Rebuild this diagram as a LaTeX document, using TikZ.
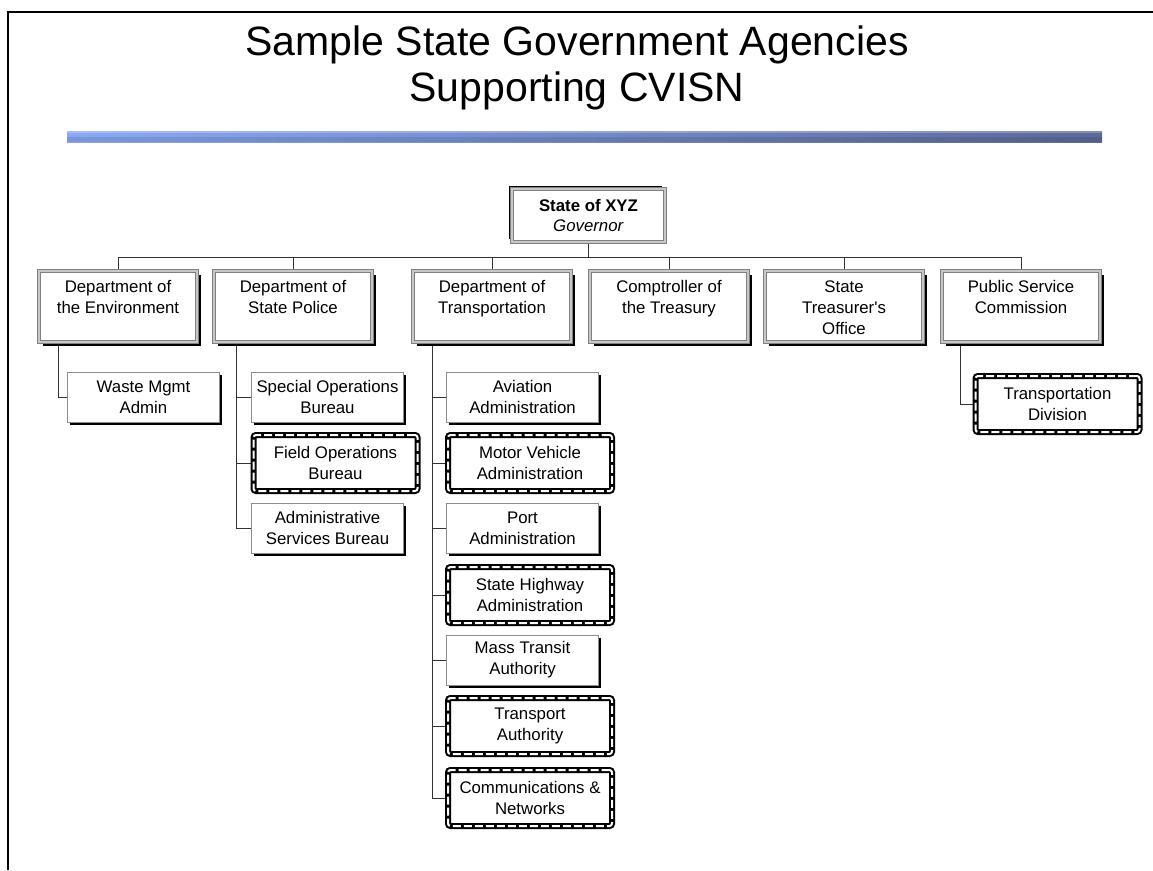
\documentclass[tikz,border=0pt]{standalone}
\usepackage{fontspec}
\setmainfont{Liberation Sans}
\usetikzlibrary{calc,shadows,backgrounds}

\definecolor{barleft}{RGB}{138,168,245}
\definecolor{barright}{RGB}{92,106,152}

\begin{document}
\begin{tikzpicture}[x=1pt,y=-1pt,
  lbl/.style={font=\fontsize{16.8}{21}\selectfont, align=center, inner sep=0pt},
  framebox/.style={draw=black!50, line width=0.8pt, double=black!22, double distance=2.6pt,
    fill=white, inner sep=0pt},
  deptbox/.style={framebox, minimum width=158pt, minimum height=71pt,
    drop shadow={shadow xshift=3.5pt, shadow yshift=-3.5pt, fill=black, opacity=1}},
  govbox/.style={framebox, minimum width=153pt, minimum height=53pt,
    font=\fontsize{16.8}{20}\selectfont, align=center,
    drop shadow={shadow xshift=-3.5pt, shadow yshift=3.5pt, fill=black, opacity=1}},
  unitbox/.style={lbl, draw=black!45, line width=0.8pt, fill=white,
    minimum width=152pt, minimum height=50pt,
    drop shadow={shadow xshift=2.5pt, shadow yshift=-2.5pt, fill=black, opacity=1}},
  cvisnbox/.style={lbl, draw=black, line width=6pt, rounded corners=2.5pt, fill=white,
    minimum width=164pt, minimum height=56pt,
    postaction={draw=white, line width=2pt, dash pattern=on 8pt off 3pt}},
  link/.style={draw=black!80, line width=0.8pt}
]
\useasboundingbox (0,0) rectangle (1153,870);

% page frame
\draw[line width=2pt] (7.5,870) -- (7.5,12) -- (1153,12);

% title and rule
\node[font=\fontsize{41}{46}\selectfont, align=center, inner sep=0pt] (title) at (577,68)
  {Sample State Government Agencies\\Supporting CVISN};
\shade[left color=barleft, right color=barright] (67,131) rectangle (1102,142);
\fill[black, opacity=0.10] (67,137) rectangle (1102,142);
\fill[white, opacity=0.25] (67,131) rectangle (1102,132.5);

% head of the chart
\node[govbox] (gov) at (588.5,215.5) {\textbf{State of XYZ}\\\textit{Governor}};

% departments
\node[deptbox] (env)  at (118,306.5) {};
\node[deptbox] (pol)  at (293,306.5) {};
\node[deptbox] (dot)  at (492,306.5) {};
\node[deptbox] (comp) at (669,306.5) {};
\node[deptbox] (tres) at (844,306.5) {};
\node[deptbox] (psc)  at (1021,306.5) {};

\node[lbl, anchor=north] (envlbl)  at ($(env.north)+(0,10)$)  {Department of\\the Environment};
\node[lbl, anchor=north] (pollbl)  at ($(pol.north)+(0,10)$)  {Department of\\State Police};
\node[lbl, anchor=north] (dotlbl)  at ($(dot.north)+(0,10)$)  {Department of\\Transportation};
\node[lbl, anchor=north] (complbl) at ($(comp.north)+(0,10)$) {Comptroller of\\the Treasury};
\node[lbl, anchor=north] (treslbl) at ($(tres.north)+(0,10)$) {State\\Treasurer\textquotesingle s\\Office};
\node[lbl, anchor=north] (psclbl)  at ($(psc.north)+(0,10)$)  {Public Service\\Commission};

% units
\node[unitbox]  (waste)   at (143.5,397) {Waste Mgmt\\Admin};
\node[unitbox]  (special) at (327.5,397) {Special Operations\\Bureau};
\node[cvisnbox] (field)   at (335.5,463) {Field Operations\\Bureau};
\node[unitbox]  (admin)   at (327.5,528) {Administrative\\Services Bureau};
\node[unitbox]  (avia)    at (522.5,397) {Aviation\\Administration};
\node[cvisnbox] (mva)     at (530,463)   {Motor Vehicle\\Administration};
\node[unitbox]  (port)    at (522.5,528) {Port\\Administration};
\node[cvisnbox] (sha)     at (530,595)   {State Highway\\Administration};
\node[unitbox]  (mta)     at (522.5,660) {Mass Transit\\Authority};
\node[cvisnbox] (ta)      at (530,726)   {Transport\\Authority};
\node[cvisnbox] (comm)    at (530,798)   {Communications \&\\Networks};
\node[cvisnbox] (tdiv)    at (1057.5,404) {Transportation\\Division};

% connectors
\begin{scope}[on background layer]
  \coordinate (bus) at (0,257);
  \draw[link] (gov.south) -- (gov.south |- bus);
  \draw[link] (env.north) -- (env.north |- bus) -- (psc.north |- bus) -- (psc.north);
  \foreach \d in {pol,dot,comp,tres} \draw[link] (\d.north) -- (\d.north |- bus);

  \coordinate (envstem) at ($(env.south west)+(20,0)$);
  \draw[link] (envstem) |- (waste.west);

  \coordinate (polstem) at ($(pol.south west)+(23,0)$);
  \draw[link] (polstem) |- (admin.west);
  \foreach \u in {special,field} \draw[link] (polstem |- \u.west) -- (\u.west);

  \coordinate (dotstem) at ($(dot.south west)+(20,0)$);
  \draw[link] (dotstem) |- (comm.west);
  \foreach \u in {avia,mva,port,sha,mta,ta} \draw[link] (dotstem |- \u.west) -- (\u.west);

  \coordinate (pscstem) at ($(psc.south west)+(19,0)$);
  \draw[link] (pscstem) |- (tdiv.west);
\end{scope}
\end{tikzpicture}
\end{document}
